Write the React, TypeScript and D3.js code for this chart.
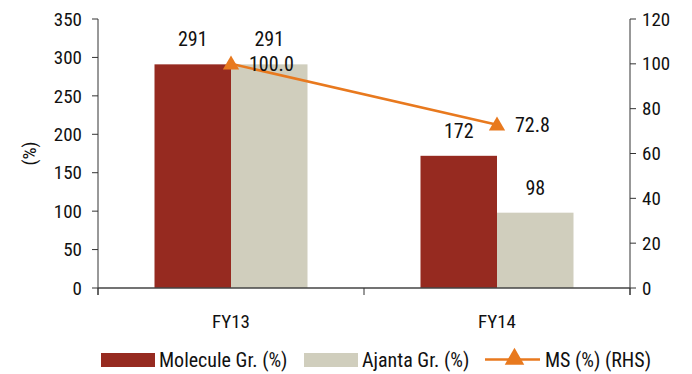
import React from "react";
import * as d3 from "d3";

const categories = ["FY13", "FY14"];
const moleculeGr = [291, 172];
const ajantaGr = [291, 98];
const marketShare = [100.0, 72.8];
const leftTicks = [0, 50, 100, 150, 200, 250, 300, 350];
const rightTicks = [0, 20, 40, 60, 80, 100, 120];

const W = 692;
const H = 374;
const FONT = "'Roboto Condensed', 'Liberation Sans Narrow', sans-serif";
const MAROON = "#962A20";
const BEIGE = "#D0CEBD";
const ORANGE = "#E8791E";
const INK = "#111";

export default function App() {
  const left = 98;
  const right = 630;
  const top = 19;
  const bottom = 288;

  const x = d3.scaleBand<string>().domain(categories).range([left, right]);
  const yL = d3.scaleLinear().domain([0, 350]).range([bottom, top]);
  const yR = d3.scaleLinear().domain([0, 120]).range([bottom, top]);
  const barW = 76.5;
  const center = (c: string) => (x(c) as number) + x.bandwidth() / 2;

  const linePts: [number, number][] = categories.map((c, i) => [center(c), yR(marketShare[i])]);
  const line = d3.line()(linePts) || "";
  const tri = d3.symbol().type(d3.symbolTriangle).size(115)() || "";
  const legendTri = d3.symbol().type(d3.symbolTriangle).size(165)() || "";

  // category boundaries for the small ticks under the x axis
  const boundaries = [left, ...categories.map((c) => (x(c) as number) + x.bandwidth())];

  return (
    <svg
      width={W}
      height={H}
      style={{ position: "absolute", left: 0, top: 0, background: "#fff" }}
      fontFamily={FONT}
    >
      {/* bars */}
      {categories.map((c, i) => {
        const cx = center(c);
        return (
          <g key={c}>
            <rect x={cx - barW} y={yL(moleculeGr[i])} width={barW} height={bottom - yL(moleculeGr[i])} fill={MAROON} />
            <rect x={cx} y={yL(ajantaGr[i])} width={barW} height={bottom - yL(ajantaGr[i])} fill={BEIGE} />
            <text x={cx - barW / 2} y={yL(moleculeGr[i]) - 25} dy="0.35em" textAnchor="middle" fontSize={20} fill={INK}>
              {moleculeGr[i]}
            </text>
            <text x={cx + barW / 2} y={yL(ajantaGr[i]) - 25} dy="0.35em" textAnchor="middle" fontSize={20} fill={INK}>
              {ajantaGr[i]}
            </text>
          </g>
        );
      })}

      {/* left axis */}
      <line x1={left} x2={left} y1={top} y2={bottom + 7} stroke="#333" strokeWidth={1} />
      {leftTicks.map((t) => (
        <g key={"l" + t}>
          <line x1={left - 6} x2={left} y1={yL(t)} y2={yL(t)} stroke="#333" />
          <text x={left - 16} y={yL(t)} dy="0.35em" textAnchor="end" fontSize={19} fill={INK}>
            {t}
          </text>
        </g>
      ))}
      <text transform={`translate(29,${(top + bottom) / 2}) rotate(-90)`} textAnchor="middle" dy="0.35em" fontSize={19} fill={INK}>
        (%)
      </text>

      {/* right axis */}
      <line x1={right} x2={right} y1={top} y2={bottom + 7} stroke="#333" strokeWidth={1} />
      {rightTicks.map((t) => (
        <g key={"r" + t}>
          <line x1={right} x2={right + 6} y1={yR(t)} y2={yR(t)} stroke="#333" />
          <text x={right + 12} y={yR(t)} dy="0.35em" textAnchor="start" fontSize={19} fill={INK}>
            {t}
          </text>
        </g>
      ))}

      {/* x axis */}
      <line x1={left} x2={right} y1={bottom} y2={bottom} stroke="#444" strokeWidth={1.5} />
      {boundaries.map((b, i) => (
        <line key={"b" + i} x1={b} x2={b} y1={bottom} y2={bottom + 7} stroke="#333" />
      ))}
      {categories.map((c) => (
        <text key={"x" + c} x={center(c)} y={321} dy="0.35em" textAnchor="middle" fontSize={19} fill={INK}>
          {c}
        </text>
      ))}

      {/* market share line */}
      <path d={line} fill="none" stroke={ORANGE} strokeWidth={2.5} />
      {linePts.map((p, i) => (
        <g key={"m" + i}>
          <path d={tri} transform={`translate(${p[0]},${p[1] + 1})`} fill={ORANGE} />
          <text x={p[0] + 18} y={p[1]} dy="0.35em" textAnchor="start" fontSize={20} fill={INK}>
            {marketShare[i].toFixed(1)}
          </text>
        </g>
      ))}

      {/* legend */}
      <g fontSize={20} fill={INK}>
        <rect x={101} y={353} width={54} height={14} fill={MAROON} />
        <text x={159} y={359.5} dy="0.35em">Molecule Gr. (%)</text>
        <rect x={304} y={353} width={54} height={14} fill={BEIGE} />
        <text x={362} y={359.5} dy="0.35em">Ajanta Gr. (%)</text>
        <line x1={485} x2={540} y1={359.5} y2={359.5} stroke={ORANGE} strokeWidth={2.5} />
        <path d={legendTri} transform="translate(514.5,359)" fill={ORANGE} />
        <text x={545} y={359.5} dy="0.35em">MS (%) (RHS)</text>
      </g>
    </svg>
  );
}
